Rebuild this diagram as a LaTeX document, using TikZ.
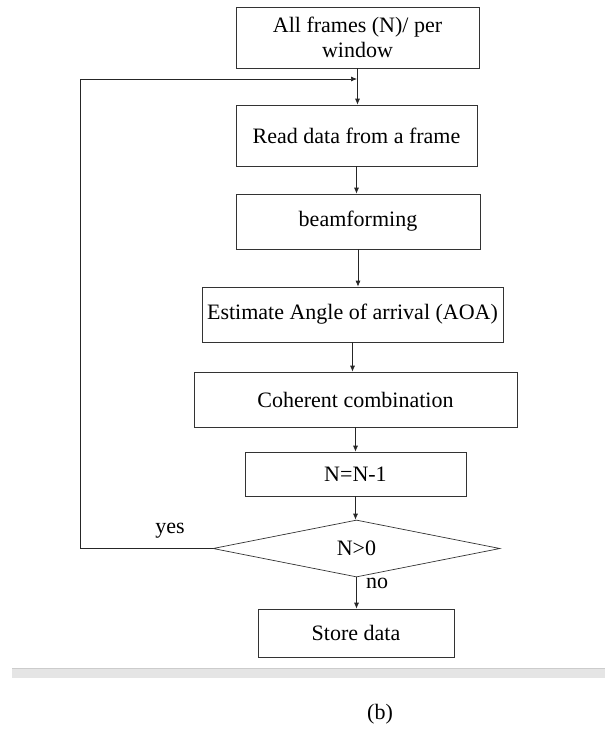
\documentclass[tikz,border=0pt]{standalone}
\usepackage{fontspec}
\setmainfont{Liberation Serif}
\usetikzlibrary{shapes.geometric,arrows.meta}

\begin{document}
\begin{tikzpicture}[x=1pt, y=-1pt,
        box/.style={draw=black!80, line width=0.7pt, inner sep=0pt, align=center,
            font=\fontsize{22}{25}\selectfont},
        decision/.style={box, diamond, aspect=5},
        flow/.style={draw=black!85, line width=0.7pt, -{Latex[length=6pt,width=5pt]}},
        txt/.style={font=\fontsize{22}{25}\selectfont}]

            \useasboundingbox (0,0) rectangle (605,732);

            \node[box, minimum width=243, minimum height=61] (frames) at (357.5,37.5) {All frames (N)/ per\\window};
            \node[box, minimum width=241, minimum height=61] (read) at (356.5,135.5) {Read data from a frame};
            \node[box, minimum width=244, minimum height=55] (beam) at (358,221.5) {beamforming};
            \node[box, minimum width=301, minimum height=55] (aoa) at (352.5,314.5) {Estimate Angle of arrival (AOA)};
            \node[box, minimum width=323, minimum height=55] (comb) at (355.5,399.5) {Coherent combination};
            \node[box, minimum width=221, minimum height=44] (dec) at (355.5,474) {N=N-1};
            \node[decision, minimum width=287, minimum height=57] (test) at (356.5,548.5) {N>0};
            \node[box, minimum width=196, minimum height=48] (store) at (356,633) {Store data};

            \coordinate (join) at (357,79);

            \draw[flow] (frames.south) -- (frames.south |- read.north);
            \draw[flow] (read.south) -- (read.south |- beam.north);
            \draw[flow] (beam.south) -- (beam.south |- aoa.north);
            \draw[flow] (aoa.south) -- (aoa.south |- comb.north);
            \draw[flow] (comb.south) -- (comb.south |- dec.north);
            \draw[flow] (dec.south) -- (dec.south |- test.north);
            \draw[flow] (test.south) -- (test.south |- store.north);
            \draw[flow] (test.west) -- ++(-132,0) |- (join);

            \node[txt] (yes) at (170,531) {yes};
            \node[txt] (no) at (377,583) {no};

            % separator and caption
            \fill[black!10] (12,668) rectangle (605,678);
            \draw[black!20, line width=0.6pt] (12,668) -- (605,668);
            \node[txt] (cap) at (380,714) {(b)};

        \end{tikzpicture}
\end{document}
